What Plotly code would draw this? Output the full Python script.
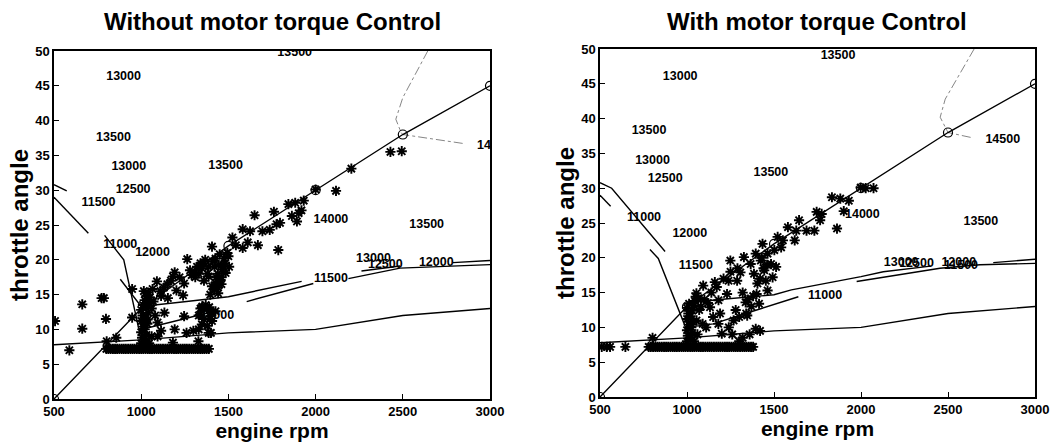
import plotly.graph_objects as go

FONT = "Liberation Sans"

# ---------------- shared ----------------
rpm_ticks = [500, 1000, 1500, 2000, 2500, 3000]
angle_ticks = [0, 5, 10, 15, 20, 25, 30, 35, 40, 45, 50]

diag_x = [500, 1000, 1500, 2000, 2500, 3000]
diag_y = [0, 13, 22, 30, 38, 45]

low_x = [500, 1000, 1500, 2000, 2500, 3000]
low_y = [7.8, 8.5, 9.5, 10.0, 12.0, 13.0]

# ---------------- left panel (without) ----------------
L_circ_x = [500, 1500, 2000, 2500, 3000]
L_circ_y = [0, 22, 30, 38, 45]

L_lineA_x = [880, 1000, 1260, 1500, 1920]
L_lineA_y = [17.2, 13.3, 14.0, 14.7, 16.9]
L_lineA2_x = [2263, 2484]
L_lineA2_y = [18.4, 19.1]
L_lineA3_x = [2787, 3000]
L_lineA3_y = [19.6, 19.9]
L_lineC_x = [790, 900, 985, 1000, 1260, 1400]
L_lineC_y = [23.5, 20.0, 10.2, 10.0, 11.6, 12.5]
L_lineB_x = [1605, 1987]
L_lineB_y = [14.0, 16.6]
L_lineB2_x = [2188, 2484, 3000]
L_lineB2_y = [17.3, 18.8, 19.3]
L_lineD_x = [500, 573]
L_lineD_y = [30.8, 29.9]
L_lineE_x = [500, 697]
L_lineE_y = [29.0, 23.8]
L_dash_x = [2643, 2500, 2460, 2490, 2500, 2850]
L_dash_y = [50, 43.3, 40.2, 38.3, 38.0, 36.7]

L_lab_txt = ["13500", "13000", "13500", "13000", "12500", "11500", "11000", "12000",
             "13500", "14000", "13500", "13000", "12500", "12000", "11500", "11000", "14500"]
L_lab_x = [1880, 899, 841, 929, 954, 755, 880, 1065, 1484, 2088, 2637, 2332, 2400, 2692, 2088, 1435, 3025]
L_lab_y = [49.8, 46.3, 37.5, 33.3, 30.1, 28.2, 22.1, 21.0, 33.5, 25.8, 25.0, 20.1, 19.3, 19.5, 17.2, 11.9, 36.4]

L_star_x = [
    800, 812, 825, 838, 850, 862, 875, 888, 900, 912, 925, 938, 950, 962, 975, 988,
    1000, 1012, 1025, 1038, 1050, 1062, 1075, 1088, 1100, 1112, 1125, 1138, 1150, 1162,
    1175, 1188, 1200, 1212, 1225, 1238, 1250, 1262, 1275, 1288, 1300, 1312, 1325, 1338,
    1350, 1362, 1375, 1388,
    506, 588, 662, 662, 773, 786, 798, 802, 857, 948, 948,
    1000, 1005, 1000, 1010, 1000, 1008, 1000, 1010, 1020, 1030, 1040, 1025, 1030, 1020,
    1035, 1025, 1040, 1030, 1045, 1050, 1015, 1045, 1060, 1015, 1060, 1070, 1065, 1080,
    1036, 1090, 1182, 1192, 1264, 1246, 1202, 1153, 1114, 1240, 1289, 1305, 1348, 1367,
    1357, 1387, 1406, 1426, 1445, 1465, 1426, 1396, 1441, 1406, 1387, 1455, 1484, 1504,
    1475, 1494, 1523, 1543, 1582, 1582, 1624, 1611, 1650, 1669, 1695, 1737, 1761, 1776,
    1786, 1796, 1844, 1864, 1883, 1893, 1903, 1919, 1932, 2000, 2117, 2205, 2429, 2494,
    1036, 1094, 1094, 1133, 1114, 1192, 1182, 1246, 1260, 1299, 1328, 1338, 1348, 1377,
    1387, 1396, 1426, 1406, 1348,
    1330, 1340, 1350, 1370, 1390, 1400, 1360, 1395, 1380, 1400, 1330,
    1110, 1130, 1150, 1170, 1220, 1280, 1320, 1340, 1420, 1440, 1460, 1480, 1500, 1380,
    1410, 1450, 1470, 1430, 1330, 1310, 1360, 1420, 1440, 1460,
]
L_star_y = [
    7.2, 7.2, 7.2, 7.2, 7.2, 7.2, 7.2, 7.2, 7.2, 7.2, 7.2, 7.2, 7.2, 7.2, 7.2, 7.2,
    7.2, 7.2, 7.2, 7.2, 7.2, 7.2, 7.2, 7.2, 7.2, 7.2, 7.2, 7.2, 7.2, 7.2,
    7.2, 7.2, 7.2, 7.2, 7.2, 7.2, 7.2, 7.2, 7.2, 7.2, 7.2, 7.2, 7.2, 7.2,
    7.2, 7.2, 7.2, 7.2,
    11.2, 7.0, 13.6, 10.1, 14.5, 14.5, 11.5, 8.3, 8.8, 15.8, 11.7,
    8.0, 8.8, 9.6, 10.4, 11.2, 12.0, 12.8, 13.5, 14.2, 14.8, 15.3, 8.4, 9.2, 10.0,
    10.8, 11.6, 12.4, 13.1, 13.8, 14.6, 7.8, 8.0, 9.0, 15.5, 13.0, 14.0, 15.8, 12.0,
    14.9, 16.9, 17.6, 18.2, 20.1, 16.6, 15.6, 14.5, 14.8, 14.9, 17.8, 18.2, 18.8, 20.0,
    19.5, 19.0, 21.9, 20.2, 19.3, 18.6, 16.7, 15.0, 15.2, 16.2, 17.6, 17.1, 18.1, 19.0,
    20.2, 21.0, 23.2, 22.1, 21.7, 24.4, 24.1, 22.5, 26.4, 22.1, 24.1, 24.3, 26.9, 25.1,
    21.4, 25.3, 28.0, 26.3, 28.2, 25.5, 26.7, 27.1, 28.5, 30.1, 29.9, 33.1, 35.5, 35.6,
    11.4, 9.0, 11.0, 12.4, 9.8, 10.0, 8.1, 11.9, 9.5, 9.8, 8.3, 12.1, 13.1, 12.9,
    9.5, 11.9, 12.6, 11.2, 10.7,
    12.0, 13.0, 13.3, 13.5, 13.2, 12.5, 11.5, 11.5, 10.5, 9.5, 10.0,
    15.5, 16.0, 16.5, 17.0, 17.5, 18.5, 19.0, 19.5, 19.0, 18.0, 17.5, 19.5, 20.5, 18.0,
    19.8, 20.8, 19.0, 17.5, 18.0, 17.5, 17.0, 15.8, 16.0, 16.5,
]

# ---------------- right panel (with) ----------------
R_circ_x = [500, 1000, 1500, 2000, 2500, 3000]
R_circ_y = [0, 13, 22, 30, 38, 45]

R_lineA_x = [1000, 1190, 1500, 1600, 2000, 2128, 2400]
R_lineA_y = [13.5, 14.0, 14.7, 15.4, 17.3, 18.0, 18.8]
R_lineA2_x = [2760, 3000]
R_lineA2_y = [19.3, 19.8]
R_lineC_x = [1000, 1150, 1400, 1534, 1640]
R_lineC_y = [10.0, 10.5, 12.5, 13.5, 14.4]
R_lineC2_x = [1975, 2454, 2684, 3000]
R_lineC2_y = [16.6, 18.5, 19.0, 19.2]
R_lineU_x = [500, 567, 874]
R_lineU_y = [30.8, 30.0, 20.9]
R_lineL_x = [500, 561]
R_lineL_y = [29.0, 27.4]
R_lineS_x = [787, 835, 1000]
R_lineS_y = [21.2, 19.9, 9.5]
R_dash_x = [2650, 2484, 2455, 2500, 2630]
R_dash_y = [50, 42.8, 40.2, 38.0, 37.3]

R_lab_txt = ["13500", "13000", "13500", "13000", "12500", "11000", "12000", "11500",
             "13500", "14000", "14500", "13500", "13000", "12500", "12000", "11500", "11000"]
R_lab_x = [1868, 961, 782, 802, 875, 753, 1016, 1051, 1482, 2008, 2815, 2689, 2231, 2319, 2562, 2575, 1794]
R_lab_y = [49.0, 46.0, 38.2, 33.9, 31.3, 25.8, 23.4, 18.9, 32.2, 26.1, 36.9, 25.1, 19.3, 19.1, 19.2, 18.9, 14.6]

R_star_x = [
    780, 792, 805, 818, 830, 842, 855, 868, 880, 892, 905, 918, 930, 942, 955, 968,
    980, 992, 1005, 1018, 1030, 1042, 1055, 1068, 1080, 1092, 1105, 1118, 1130, 1142,
    1155, 1168, 1180, 1192, 1205, 1218, 1230, 1242, 1255, 1268, 1280, 1292, 1305, 1318,
    1330, 1342, 1355, 1368, 1380,
    510, 539, 558, 646, 802,
    1000, 1005, 1000, 1010, 1000, 1008, 1000, 1012, 1020, 1030, 1025, 1035, 1020, 1030,
    1040, 1045, 1050, 1040, 1060, 1055, 1070, 1065, 1080, 1090,
    1054, 1093, 1132, 1171, 1181, 1190, 1200, 1230, 1239, 1249, 1268, 1288, 1307, 1327,
    1337, 1346, 1366, 1385, 1395, 1405, 1414, 1395, 1424, 1434, 1444, 1453, 1463, 1463,
    1483, 1492, 1502, 1512, 1521, 1541, 1551, 1580, 1619, 1644, 1628, 1687, 1732, 1745,
    1765, 1774, 1833, 1862, 1881, 1901, 1930, 1998, 2072, 2027,
    1100, 1120, 1140, 1160, 1210, 1250, 1290, 1300, 1320, 1360, 1380, 1400, 1420, 1440,
    1280, 1300, 1350, 1370, 1240, 1260, 1110, 1150, 1180, 1320, 1340, 1420, 1430, 1460,
]
R_star_y = [
    7.2, 7.2, 7.2, 7.2, 7.2, 7.2, 7.2, 7.2, 7.2, 7.2, 7.2, 7.2, 7.2, 7.2, 7.2, 7.2,
    7.2, 7.2, 7.2, 7.2, 7.2, 7.2, 7.2, 7.2, 7.2, 7.2, 7.2, 7.2, 7.2, 7.2,
    7.2, 7.2, 7.2, 7.2, 7.2, 7.2, 7.2, 7.2, 7.2, 7.2, 7.2, 7.2, 7.2, 7.2,
    7.2, 7.2, 7.2, 7.2, 7.2,
    7.2, 7.2, 7.2, 7.2, 8.5,
    8.0, 8.8, 9.6, 10.4, 11.2, 12.0, 12.8, 13.4, 8.4, 9.2, 10.0, 10.8, 11.6, 12.4,
    13.1, 13.8, 14.4, 8.0, 9.0, 11.0, 12.5, 14.2, 13.0, 10.5,
    14.9, 16.0, 12.9, 15.8, 13.9, 12.0, 9.1, 14.8, 16.7, 19.6, 11.0, 16.7, 17.9, 20.1,
    13.6, 11.7, 19.1, 17.7, 20.6, 16.3, 13.4, 9.8, 19.6, 22.0, 18.2, 16.7, 15.3, 20.6,
    19.1, 17.2, 21.1, 18.7, 23.0, 21.5, 22.5, 24.4, 22.5, 25.4, 23.9, 23.9, 23.9, 26.6,
    25.4, 26.3, 28.7, 24.2, 28.5, 26.7, 28.2, 30.1, 30.0, 30.0,
    14.0, 13.5, 15.0, 16.5, 17.0, 18.0, 18.5, 8.0, 8.5, 9.0, 14.5, 14.8, 17.0, 18.5,
    12.5, 11.5, 14.0, 13.0, 10.0, 9.0, 10.0, 11.5, 10.5, 15.0, 12.0, 9.5, 20.0, 19.0,
]

LINE = dict(color="black", width=1.4)
DASH = dict(color="#666666", width=0.8, dash="dashdot")


def add_panel(fig, xa, ya, circ_x, circ_y, lines, dash, labs, stars):
    ax = dict(xaxis=xa, yaxis=ya)
    fig.add_trace(go.Scatter(x=low_x, y=low_y, mode="lines", line=LINE, **ax))
    for lx, ly in lines:
        fig.add_trace(go.Scatter(x=lx, y=ly, mode="lines", line=LINE, **ax))
    fig.add_trace(go.Scatter(x=dash[0], y=dash[1], mode="lines", line=DASH, **ax))
    fig.add_trace(go.Scatter(x=diag_x, y=diag_y, mode="lines", line=LINE, **ax))
    fig.add_trace(go.Scatter(x=stars[0], y=stars[1], mode="markers",
                             marker=dict(symbol="asterisk-open", size=8.5, color="black",
                                         line=dict(color="black", width=1.9)), **ax))
    fig.add_trace(go.Scatter(x=circ_x, y=circ_y, mode="markers",
                             marker=dict(symbol="circle-open", size=9, color="black",
                                         line=dict(color="black", width=1.2)), **ax))
    fig.add_trace(go.Scatter(x=labs[1], y=labs[2], text=labs[0], mode="text",
                             textposition="middle center", cliponaxis=True,
                             textfont=dict(family=FONT, size=12.5, color="black", weight="bold"),
                             **ax))


fig = go.Figure()
add_panel(fig, "x", "y", L_circ_x, L_circ_y,
          [(L_lineA_x, L_lineA_y), (L_lineA2_x, L_lineA2_y), (L_lineA3_x, L_lineA3_y),
           (L_lineC_x, L_lineC_y), (L_lineB_x, L_lineB_y), (L_lineB2_x, L_lineB2_y),
           (L_lineD_x, L_lineD_y), (L_lineE_x, L_lineE_y)],
          (L_dash_x, L_dash_y), (L_lab_txt, L_lab_x, L_lab_y), (L_star_x, L_star_y))
add_panel(fig, "x2", "y2", R_circ_x, R_circ_y,
          [(R_lineA_x, R_lineA_y), (R_lineA2_x, R_lineA2_y), (R_lineC_x, R_lineC_y),
           (R_lineC2_x, R_lineC2_y), (R_lineU_x, R_lineU_y), (R_lineL_x, R_lineL_y),
           (R_lineS_x, R_lineS_y)],
          (R_dash_x, R_dash_y), (R_lab_txt, R_lab_x, R_lab_y), (R_star_x, R_star_y))

tickfont = dict(family=FONT, size=13, color="black", weight="bold")
xtitlefont = dict(family=FONT, size=21, color="black", weight="bold")
ytitlefont = dict(family=FONT, size=24, color="black", weight="bold")


def xax(domain, anchor):
    return dict(domain=domain, anchor=anchor, range=[500, 3000], tickvals=rpm_ticks,
                ticks="inside", ticklen=5, tickcolor="black", mirror=True, showline=True,
                linecolor="black", linewidth=1.5, showgrid=False, zeroline=False,
                automargin=False, tickfont=tickfont,
                title=dict(text="engine rpm", font=xtitlefont, standoff=4))


def yax(domain, anchor):
    return dict(domain=domain, anchor=anchor, range=[0, 50], tickvals=angle_ticks,
                ticks="inside", ticklen=5, tickcolor="black", mirror=True, showline=True,
                linecolor="black", linewidth=1.5, showgrid=False, zeroline=False,
                automargin=False, tickfont=tickfont,
                title=dict(text="throttle angle", font=ytitlefont, standoff=0))


fig.update_layout(
    width=1064, height=445,
    margin=dict(l=0, r=0, t=0, b=0, autoexpand=False),
    paper_bgcolor="white", plot_bgcolor="white",
    showlegend=False,
    xaxis=xax([54 / 1064, 490 / 1064], "y"),
    yaxis=yax([46 / 445, 394 / 445], "x"),
    xaxis2=xax([600 / 1064, 1035 / 1064], "y2"),
    yaxis2=yax([48 / 445, 396 / 445], "x2"),
    annotations=[
        dict(text="Without motor torque Control", x=272 / 1064, y=1 - 22 / 445,
             xref="paper", yref="paper", showarrow=False, xanchor="center", yanchor="middle",
             font=dict(family=FONT, size=24, color="black", weight="bold")),
        dict(text="With motor torque Control", x=817 / 1064, y=1 - 22 / 445,
             xref="paper", yref="paper", showarrow=False, xanchor="center", yanchor="middle",
             font=dict(family=FONT, size=24, color="black", weight="bold")),
    ],
)

fig.write_html("out.html", config={"displayModeBar": False},
               post_script="document.body.style.margin='0px';document.body.style.overflow='hidden';")
